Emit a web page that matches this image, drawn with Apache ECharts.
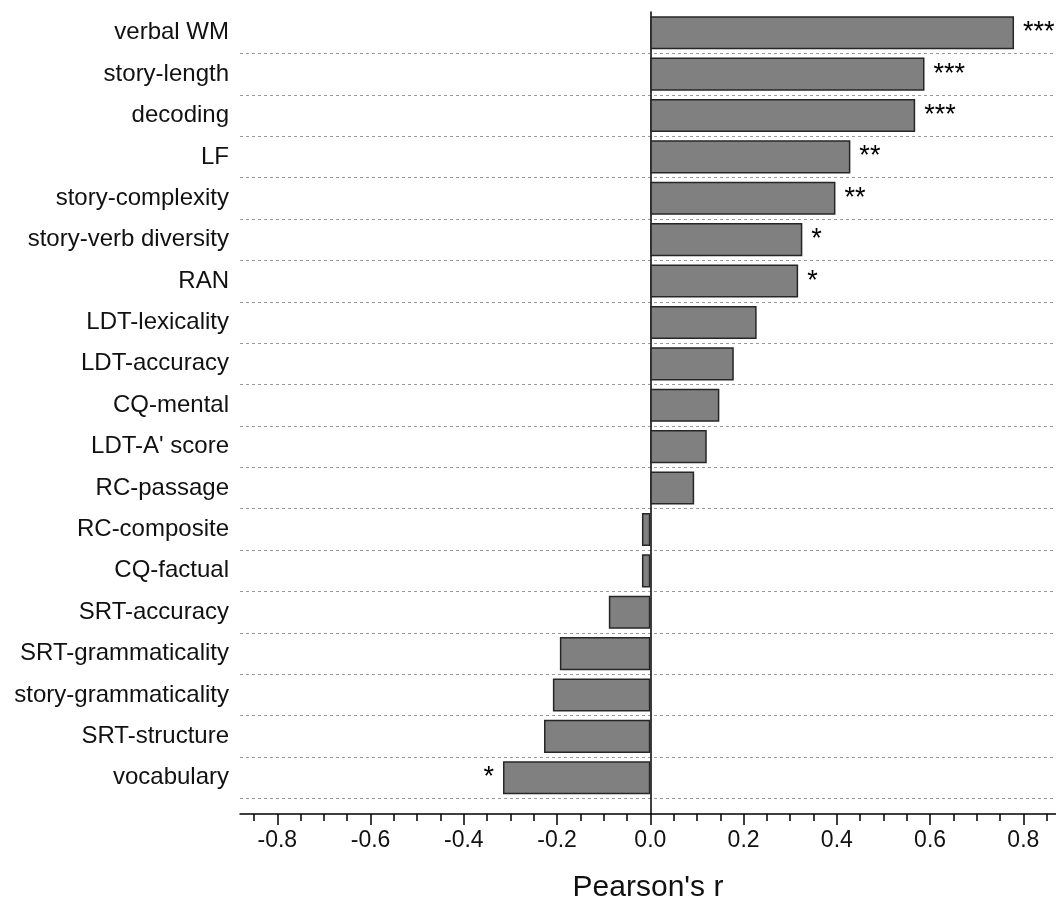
<!DOCTYPE html>
<html>
<head>
<meta charset="utf-8">
<script src="https://cdn.jsdelivr.net/npm/echarts@6/dist/echarts.min.js"></script>
<style>html,body{margin:0;padding:0;background:#fff;}#c{width:1056px;height:900px;}</style>
</head>
<body>
<div id="c"></div>
<script>
// Data (top-to-bottom as shown in the figure)
const categories = ["verbal WM","story-length","decoding","LF","story-complexity","story-verb diversity","RAN","LDT-lexicality","LDT-accuracy","CQ-mental","LDT-A' score","RC-passage","RC-composite","CQ-factual","SRT-accuracy","SRT-grammaticality","story-grammaticality","SRT-structure","vocabulary"];
const pearsonR = [0.78,0.588,0.568,0.429,0.397,0.326,0.317,0.228,0.179,0.148,0.121,0.094,-0.018,-0.018,-0.089,-0.194,-0.209,-0.228,-0.316];
const significance = ["***","***","***","**","**","*","*","","","","","","","","","","","","*"];
const xTickValues = [-0.8,-0.6,-0.4,-0.2,0.0,0.2,0.4,0.6,0.8];
const xMin = -0.88, xMax = 0.87;

const cats = categories.slice().reverse();
const vals = pearsonR.slice().reverse();
const sigs = significance.slice().reverse();

const font = "'Liberation Sans', Arial, sans-serif";
const chart = echarts.init(document.getElementById('c'), null, {renderer:'canvas'});
chart.setOption({
  animation: false,
  backgroundColor: '#fff',
  grid: [
    {left: 240, right: 0, top: 12, bottom: 101.5, containLabel: false, outerBoundsMode: 'none'},
    {left: 240, right: 0, top: 12, bottom: 86, containLabel: false, outerBoundsMode: 'none'}
  ],
  xAxis: [
    {gridIndex: 0, type: 'value', min: xMin, max: xMax, show: false, splitLine: {show: false}},
    {gridIndex: 1, type: 'value', min: xMin, max: xMax, splitNumber: 8,
      axisLine: {show: true, onZero: false, lineStyle: {color: '#000', width: 1.5}},
      axisTick: {show: true, length: 11, customValues: xTickValues, lineStyle: {color: '#000', width: 1.5}},
      minorTick: {show: true, splitNumber: 4, length: 7, lineStyle: {color: '#000', width: 1.5}},
      axisLabel: {customValues: xTickValues, margin: 15, fontSize: 23, color: '#111', fontFamily: font,
        formatter: v => Number(v).toFixed(1)},
      splitLine: {show: false},
      name: "Pearson's r", nameLocation: 'middle', nameGap: 59,
      nameTextStyle: {fontSize: 30, color: '#111', fontFamily: font}
    }
  ],
  yAxis: [
    {gridIndex: 0, type: 'category', data: cats,
      axisLine: {show: false}, axisTick: {show: false},
      axisLabel: {fontSize: 24, color: '#111', fontFamily: font, margin: 11},
      splitLine: {show: true, showMaxLine: false, lineStyle: {color: '#9a9a9a', type: [3, 3], width: 1}}
    },
    {gridIndex: 1, type: 'category', data: [''],
      axisLine: {show: true, onZero: true, lineStyle: {color: '#000', width: 1.5}},
      axisTick: {show: false}, axisLabel: {show: false}, splitLine: {show: false}
    }
  ],
  series: [{
    type: 'bar', xAxisIndex: 0, yAxisIndex: 0,
    barWidth: '80%',
    data: vals.map((v, i) => ({
      value: v,
      label: {show: sigs[i] !== '', position: v < 0 ? 'left' : 'right', formatter: sigs[i]}
    })),
    itemStyle: {color: '#808080', borderColor: '#262626', borderWidth: 1.5},
    label: {distance: 9, fontSize: 27, fontWeight: 'normal', color: '#000', fontFamily: font}
  }]
});
</script>
</body>
</html>
